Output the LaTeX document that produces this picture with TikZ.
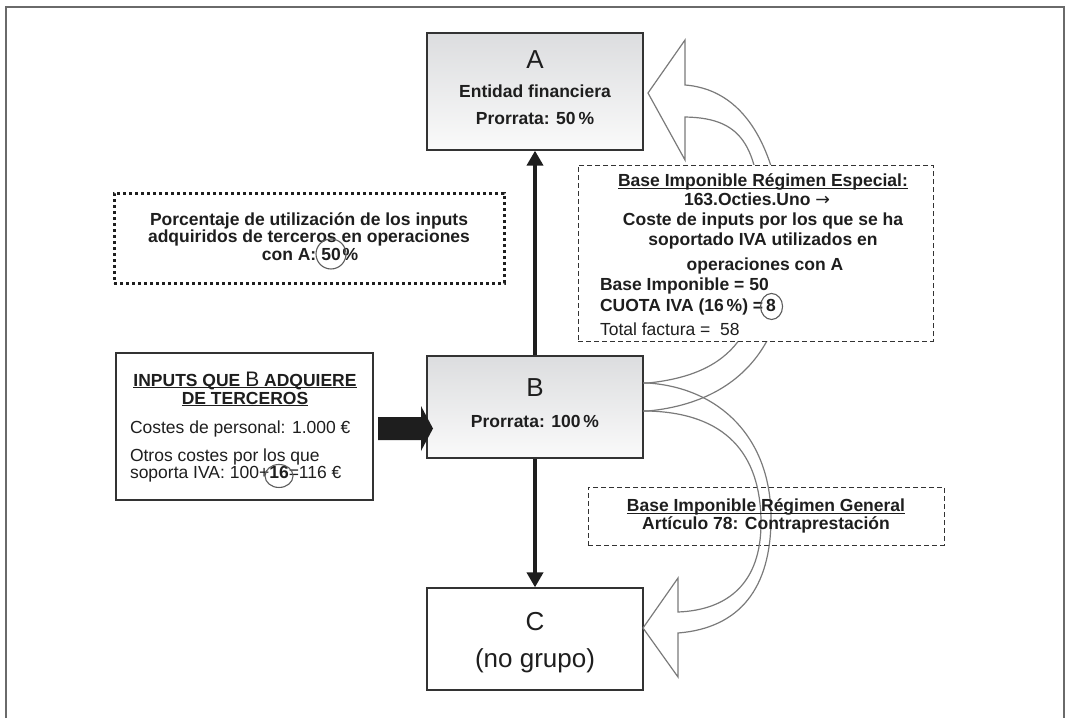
\documentclass[tikz,border=0pt]{standalone}
\usepackage{fontspec}
\setmainfont{Liberation Sans}
\newfontfamily\symbolfont{DejaVu Sans}
\usetikzlibrary{arrows.meta,calc}
\definecolor{ink}{HTML}{1E1E1E}
\definecolor{edge}{HTML}{333333}
\definecolor{framegray}{HTML}{6A6A6A}
\definecolor{flow}{HTML}{7A7A7A}
\definecolor{shadetop}{HTML}{DCDDDF}
\definecolor{shadebot}{HTML}{FAFAFA}
% underline that ignores descenders, sitting just below the baseline
\newcommand\ruledtext[1]{\underline{\smash{#1}}}

\begin{document}
\begin{tikzpicture}[x=1pt,y=-1pt,
  bf/.style={font=\fontsize{17.5}{18}\selectfont\bfseries},
  rg/.style={font=\fontsize{17.5}{18}\selectfont},
  big/.style={font=\fontsize{26}{28}\selectfont},
  ln/.style={inner sep=0pt, outer sep=0pt, anchor=base, text=ink},
  lnl/.style={ln, anchor=base west},
  entity/.style={draw=edge, line width=1.3pt, inner sep=0pt},
  graded/.style={entity, top color=shadetop, bottom color=shadebot},
  note/.style={draw=edge, line width=1pt, dash pattern=on 5pt off 3pt, inner sep=0pt},
  dotnote/.style={draw=ink, line width=3pt, dash pattern=on 3pt off 3pt, inner sep=0pt},
  conn/.style={draw=ink, line width=4pt, -{Triangle[width=16pt,length=15pt]}},
  flowarrow/.style={draw=flow, line width=1.2pt, line join=miter},
  ring/.style={draw=edge!80, line width=1.1pt},
]
\useasboundingbox (0,0) rectangle (1065,718);

% outer frame (open at the bottom)
\draw[framegray, line width=2pt] (6,718) -- (6,7) -- (1064,7) -- (1064,718);

% hollow curved arrow B -> A (passes behind the special-regime note)
\draw[flowarrow] (643,411) -- (648,411)
  .. controls (760,400) and (790,318) .. (785,248)
  .. controls (780,158) and (750,90) .. (685,85)
  -- (685,40) -- (648,93) -- (685,160) -- (685,117)
  .. controls (745,118) and (760,148) .. (762,238)
  .. controls (762,318) and (745,373) .. (648,383)
  -- (643,383);

% notes
\node[note, fill=white, minimum width=355, minimum height=176] (special) at (755.5,253) {};
\node[note, minimum width=356, minimum height=58] (general) at (766,516) {};
\node[dotnote, minimum width=390, minimum height=90] (usage) at (309,238) {};

% entities
\node[graded, minimum width=216, minimum height=117] (A) at (535,91.5) {};
\node[graded, minimum width=216, minimum height=102] (B) at (535,407) {};
\node[entity, fill=white, minimum width=216, minimum height=102] (C) at (535,639) {};
\node[entity, fill=white, minimum width=257, minimum height=147] (inputs) at (244.5,426.5) {};

% connectors
\draw[conn] (B.north) -- (A.south);
\draw[conn] (B.south) -- (C.north);

% block arrow inputs -> B
\fill[ink] (378,417) -- (421,417) -- (421,406) -- (433,428.5) -- (421,451) -- (421,440) -- (378,440) -- cycle;

% hollow curved arrow B -> C
\draw[flowarrow] (643,383) -- (648,383)
  .. controls (720,388) and (771,438) .. (771,518)
  .. controls (771,588) and (740,628) .. (678,633)
  -- (678,677) -- (643,628) -- (678,578) -- (678,612)
  .. controls (728,610) and (761,583) .. (761,523)
  .. controls (761,453) and (725,413) .. (648,411)
  -- (643,411);

% A
\node[ln, big] (Aname) at (535,68) {A};
\node[ln, bf] (Aent) at (535,97) {Entidad financiera};
\node[ln, bf] (Apro) at (535,124) {Prorrata: 50\,\%};

% B
\node[ln, big] (Bname) at (535,396) {B};
\node[ln, bf] (Bpro) at (535,427) {Prorrata: 100\,\%};

% C
\node[ln, big] (Cname) at (535,630) {C};
\node[ln, big] (Cgrp) at (535,667) {(no grupo)};

% usage percentage note
\node[ln, bf] (u1) at (309,225) {Porcentaje de utilización de los inputs};
\node[ln, bf] (u2) at (309,242.5) {adquiridos de terceros en operaciones};
\node[ln, bf] (u50) at (331,260) {50};
\node[ln, bf, anchor=base east, xshift=-5pt] (u3a) at (u50.base west) {con A:};
\node[ln, bf, anchor=base west, xshift=2pt] (u3b) at (u50.base east) {\%};
\draw[ring] (u50.center) circle [radius=15];

% inputs box
\node[ln, bf] (in1) at (245,386) {\ruledtext{INPUTS QUE {\fontsize{21}{21}\selectfont\mdseries B} ADQUIERE}};
\node[ln, bf] (in2) at (245,404) {\ruledtext{DE TERCEROS}};
\node[lnl, rg] (in3) at (130,433) {Costes de personal: 1.000 €};
\node[lnl, rg] (in4) at (130,461) {Otros costes por los que};
\node[lnl, rg] (in5a) at (130,478) {soporta IVA: 100+};
\node[lnl, bf] (in5b) at (in5a.base east) {16};
\node[lnl, rg] (in5c) at (in5b.base east) {=116 €};
\draw[ring] ($(in5b.center)+(0,4)$) ellipse [x radius=14, y radius=11.5];

% special regime note
\node[ln, bf] (s1) at (763,186.5) {\ruledtext{Base Imponible Régimen Especial:}};
\node[ln, bf] (s2) at (757,205) {163.Octies.Uno {\symbolfont\mdseries →}};
\node[ln, bf] (s3) at (763,225) {Coste de inputs por los que se ha};
\node[ln, bf] (s4) at (763,245) {soportado IVA utilizados en};
\node[ln, bf] (s5) at (765,270) {operaciones con A};
\node[lnl, bf] (s6) at (600,290) {Base Imponible = 50};
\node[lnl, bf] (s7) at (600,311.5) {CUOTA IVA (16\,\%) =};
\node[lnl, bf, xshift=3pt] (s7b) at (s7.base east) {8};
\draw[ring] ($(s7b.center)+(0.5,1)$) ellipse [x radius=11, y radius=13];
\node[lnl, rg] (s8) at (600,335) {Total factura =\ \ 58};

% general regime note
\node[ln, bf] (g1) at (766,511.5) {\ruledtext{Base Imponible Régimen General}};
\node[ln, bf] (g2) at (766,529.5) {Artículo 78: Contraprestación};
\end{tikzpicture}
\end{document}
